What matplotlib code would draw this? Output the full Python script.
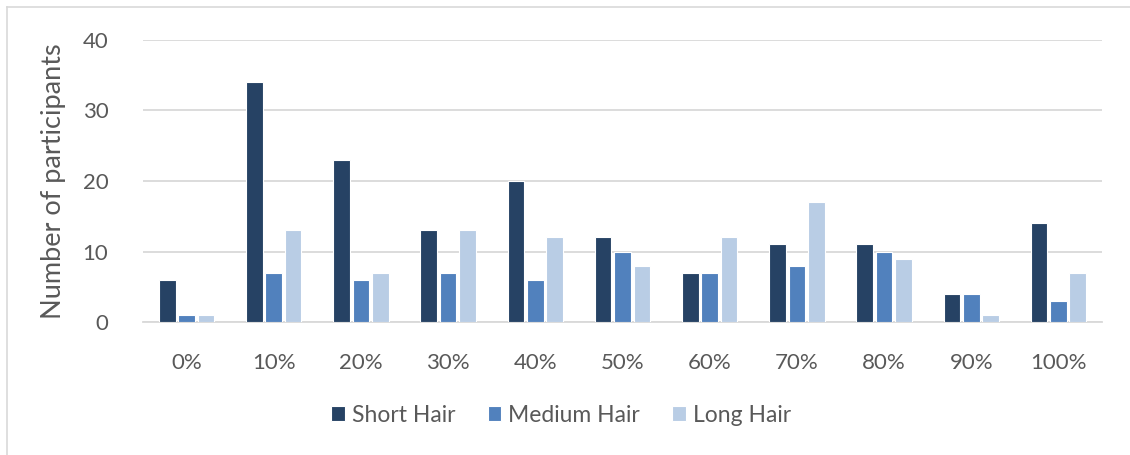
import numpy as np
import matplotlib.pyplot as plt
from matplotlib.lines import Line2D

# Participant counts per response bin
categories = ['0%', '10%', '20%', '30%', '40%', '50%', '60%', '70%', '80%', '90%', '100%']
short_hair = [6, 34, 23, 13, 20, 12, 7, 11, 11, 4, 14]
medium_hair = [1, 7, 6, 7, 6, 10, 7, 8, 10, 4, 3]
long_hair = [1, 13, 7, 13, 12, 8, 12, 17, 9, 1, 7]
series_names = ['Short Hair', 'Medium Hair', 'Long Hair']
colors = ['#264264', '#5181bd', '#b9cde5']

plt.rcParams['font.family'] = 'Lato'
txt = '#595959'

fig = plt.figure(figsize=(11.3, 4.55), dpi=100)
ax = fig.add_axes([143 / 1130, 1 - 322 / 455, (1102 - 143) / 1130, (322 - 40) / 455])

x = np.arange(len(categories))
step = 0.222
width = 0.19
for k, (vals, name, c) in enumerate(zip([short_hair, medium_hair, long_hair], series_names, colors)):
    ax.bar(x + (k - 1) * step, vals, width, color=c, edgecolor='white',
           linewidth=0.8, label=name, zorder=3)

ax.set_xlim(-0.5, len(categories) - 0.5)
ax.set_ylim(0, 40)
ax.set_yticks([0, 10, 20, 30, 40])
ax.set_xticks(x)
ax.set_xticklabels(categories)
ax.grid(axis='y', color='#d9d9d9', linewidth=1.3, zorder=0)
for s in ['top', 'right', 'left']:
    ax.spines[s].set_visible(False)
ax.spines['bottom'].set_color('#d9d9d9')
ax.spines['bottom'].set_linewidth(1.3)
ax.tick_params(axis='both', length=0, labelsize=16, colors=txt)
ax.tick_params(axis='y', pad=25)
ax.tick_params(axis='x', pad=22)
ax.set_ylabel('Number of participants', fontsize=19.5, color=txt, labelpad=12)

ax.legend(loc='center', bbox_to_anchor=(0.436, -0.33), ncol=3, frameon=False,
          fontsize=16.5, labelcolor=txt, handlelength=0.6, handleheight=0.6,
          handletextpad=0.3, columnspacing=1.4)

# light frame around the chart area
fig.add_artist(Line2D([6.5 / 1130, 1], [1 - 6.5 / 455, 1 - 6.5 / 455], color='#d9d9d9', lw=1.2))
fig.add_artist(Line2D([6.5 / 1130, 6.5 / 1130], [0, 1 - 6.5 / 455], color='#d9d9d9', lw=1.2))

fig.savefig('out.png', dpi=100)
